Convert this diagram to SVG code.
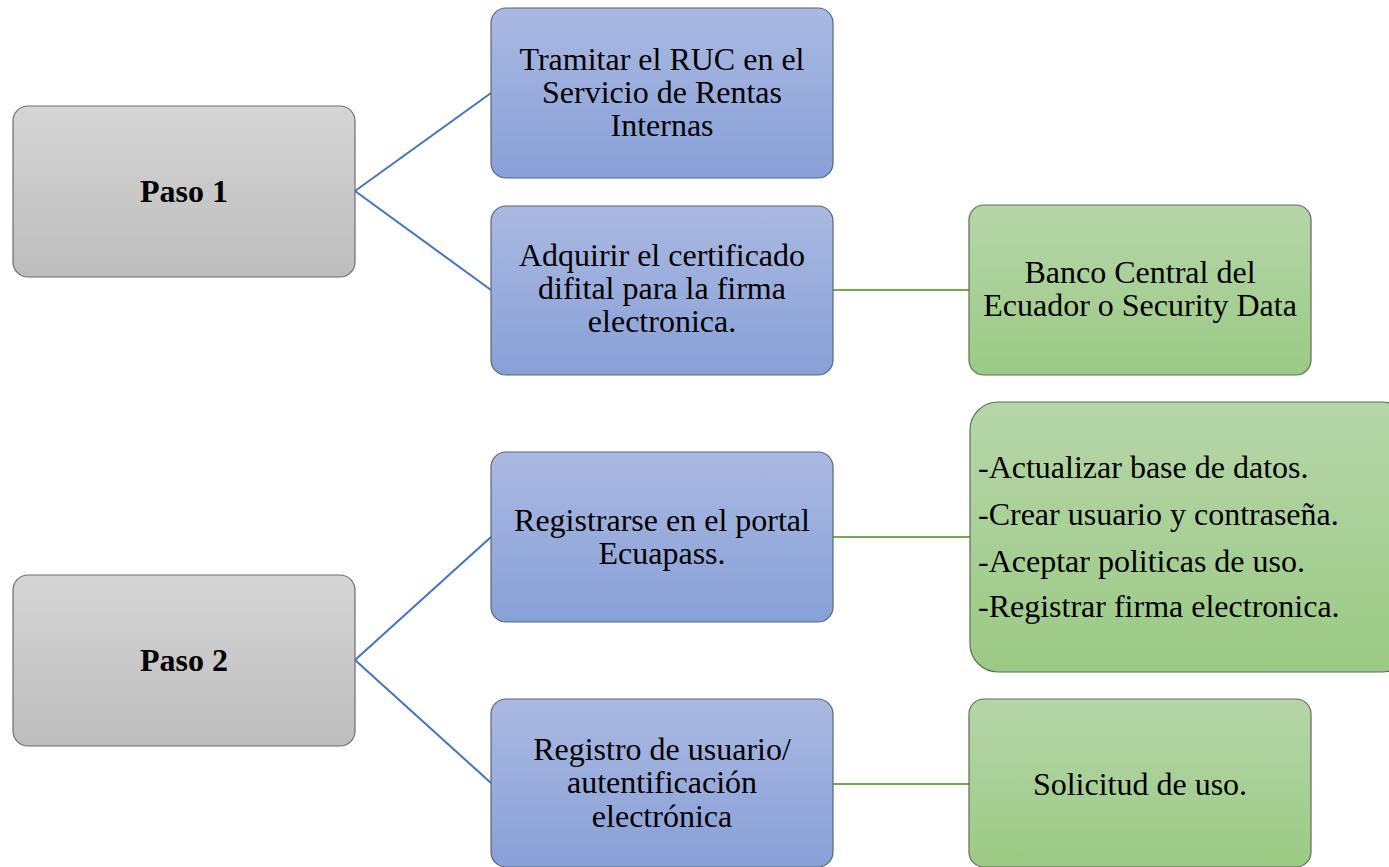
<svg xmlns="http://www.w3.org/2000/svg" width="1389" height="867" viewBox="0 0 1389 867">
<defs>
<linearGradient id="gGray" x1="0" y1="0" x2="0" y2="1"><stop offset="0" stop-color="#d5d5d5"/><stop offset="1" stop-color="#bdbdbd"/></linearGradient>
<linearGradient id="gBlue" x1="0" y1="0" x2="0" y2="1"><stop offset="0" stop-color="#aab9e1"/><stop offset="1" stop-color="#88a0d8"/></linearGradient>
<linearGradient id="gGreen" x1="0" y1="0" x2="0" y2="1"><stop offset="0" stop-color="#b6d6a9"/><stop offset="1" stop-color="#9bca84"/></linearGradient>
</defs>
<style>
.gray{fill:url(#gGray);stroke:#6e6e6e;stroke-width:1.2}
.blue{fill:url(#gBlue);stroke:#56657f;stroke-width:1.2}
.green{fill:url(#gGreen);stroke:#5e6e55;stroke-width:1.2}
text{font-family:'Liberation Serif','Times New Roman',serif;font-size:32px;fill:#000;text-anchor:middle}
.b{font-weight:bold}
.l{text-anchor:start}
.cb{stroke:#4472c4;stroke-width:2;fill:none}
.cg{stroke:#70ad47;stroke-width:2;fill:none}
</style>
<rect width="1389" height="867" fill="#fff"/>
<g id="connectors">
<line class="cb" x1="355" y1="191" x2="491" y2="93"/>
<line class="cb" x1="355" y1="191" x2="491" y2="290"/>
<line class="cb" x1="355" y1="660" x2="491" y2="537"/>
<line class="cb" x1="355" y1="660" x2="491" y2="783"/>
<line class="cg" x1="833" y1="290" x2="969" y2="290"/>
<line class="cg" x1="833" y1="537" x2="970" y2="537"/>
<line class="cg" x1="833" y1="784" x2="969" y2="784"/>
</g>
<g id="paso1"><rect class="gray" x="13" y="106" width="342" height="171" rx="15"/><text class="b" x="184" y="202">Paso 1</text></g>
<g id="paso2"><rect class="gray" x="13" y="575" width="342" height="171" rx="15"/><text class="b" x="184" y="671">Paso 2</text></g>
<g id="ruc"><rect class="blue" x="491" y="8" width="342" height="170" rx="15"/>
<text x="662" y="70">Tramitar el RUC en el</text><text x="662" y="103">Servicio de Rentas</text><text x="662" y="136">Internas</text></g>
<g id="certificado"><rect class="blue" x="491" y="206" width="342" height="169" rx="15"/>
<text x="662" y="266">Adquirir el certificado</text><text x="662" y="299">difital para la firma</text><text x="662" y="332">electronica.</text></g>
<g id="portal"><rect class="blue" x="491" y="452" width="342" height="170" rx="15"/>
<text x="662" y="531">Registrarse en el portal</text><text x="662" y="564">Ecuapass.</text></g>
<g id="registro"><rect class="blue" x="491" y="699" width="342" height="168" rx="15"/>
<text x="662" y="760">Registro de usuario/</text><text x="662" y="793">autentificación</text><text x="662" y="827">electrónica</text></g>
<g id="banco"><rect class="green" x="969" y="205" width="342" height="170" rx="15"/>
<text x="1140" y="283">Banco Central del</text><text x="1140" y="316">Ecuador o Security Data</text></g>
<g id="pasos"><rect class="green" x="970" y="402" width="440" height="270" rx="28"/>
<text class="l" x="978" y="478">-Actualizar base de datos.</text>
<text class="l" x="978" y="525">-Crear usuario y contraseña.</text>
<text class="l" x="978" y="572">-Aceptar politicas de uso.</text>
<text class="l" x="978" y="617">-Registrar firma electronica.</text></g>
<g id="solicitud"><rect class="green" x="969" y="699" width="342" height="168" rx="15"/>
<text x="1140" y="795">Solicitud de uso.</text></g>
</svg>
